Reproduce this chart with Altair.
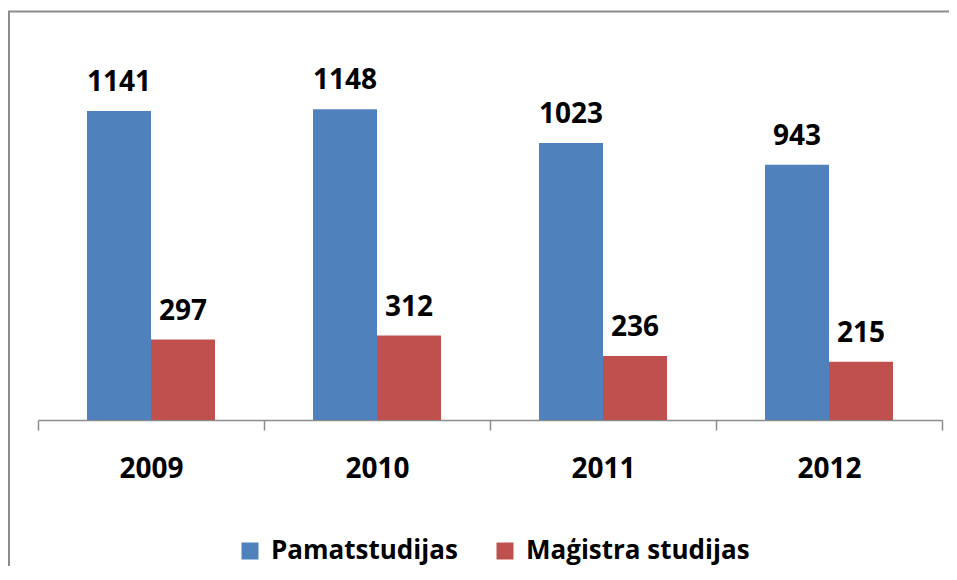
import altair as alt
import pandas as pd

years = ["2009", "2010", "2011", "2012"]
series = ["Pamatstudijas", "Maģistra studijas"]
pamat = [1141, 1148, 1023, 943]
magistra = [297, 312, 236, 215]
colors = ["#4F81BD", "#C0504D"]

rows = []
for i, y in enumerate(years):
    rows.append({"year": y, "series": series[0], "value": pamat[i]})
    rows.append({"year": y, "series": series[1], "value": magistra[i]})
df = pd.DataFrame(rows)

FONT = "Open Sans"

base = alt.Chart(df).encode(
    x=alt.X(
        "year:N",
        sort=years,
        scale=alt.Scale(paddingInner=0, paddingOuter=0),
        axis=alt.Axis(
            title=None,
            labelAngle=0,
            tickBand="extent",
            tickSize=10,
            tickWidth=1.5,
            domainWidth=1.5,
            domainColor="#8c8c8c",
            tickColor="#8c8c8c",
            labelFont=FONT,
            labelFontSize=28,
            labelFontWeight="bold",
            labelColor="black",
            labelPadding=47,
            labelBaseline="alphabetic",
        ),
    ),
    xOffset=alt.XOffset(
        "series:N", sort=series, scale=alt.Scale(paddingInner=0, paddingOuter=0.766)
    ),
    y=alt.Y("value:Q", scale=alt.Scale(domain=[0, 1400]), axis=None),
)

bars = base.mark_bar().encode(
    color=alt.Color(
        "series:N",
        sort=series,
        scale=alt.Scale(domain=series, range=colors),
        legend=alt.Legend(
            title=None,
            orient="none",
            direction="horizontal",
            legendX=199,
            legendY=497,
            symbolType="square",
            symbolSize=289,
            symbolStrokeWidth=0,
            symbolOpacity=1,
            labelFont=FONT,
            labelFontSize=26,
            labelFontWeight="bold",
            labelColor="black",
            labelOffset=8,
            columnPadding=34,
            labelLimit=400,
        ),
    )
)

labels = base.mark_text(
    dy=-20,
    baseline="alphabetic",
    font=FONT,
    fontSize=28,
    fontWeight="bold",
    color="black",
).encode(text="value:Q")

frame_df = pd.DataFrame({"k": [0]})
frame = alt.Chart(frame_df).mark_rect(
    fillOpacity=0, stroke="#8c8c8c", strokeWidth=2
).encode(
    x=alt.value(-29), x2=alt.value(2000), y=alt.value(-29.5), y2=alt.value(2000)
)

chart = (
    alt.layer(frame, bars, labels)
    .properties(
        width=904,
        height=379,
        autosize=alt.AutoSizeParams(type="none"),
        padding={"left": 30, "top": 33, "right": 7, "bottom": 146},
        background="white",
    )
    .configure_view(stroke=None)
)

chart.save("out.html", embed_options={"renderer": "svg", "actions": False})
